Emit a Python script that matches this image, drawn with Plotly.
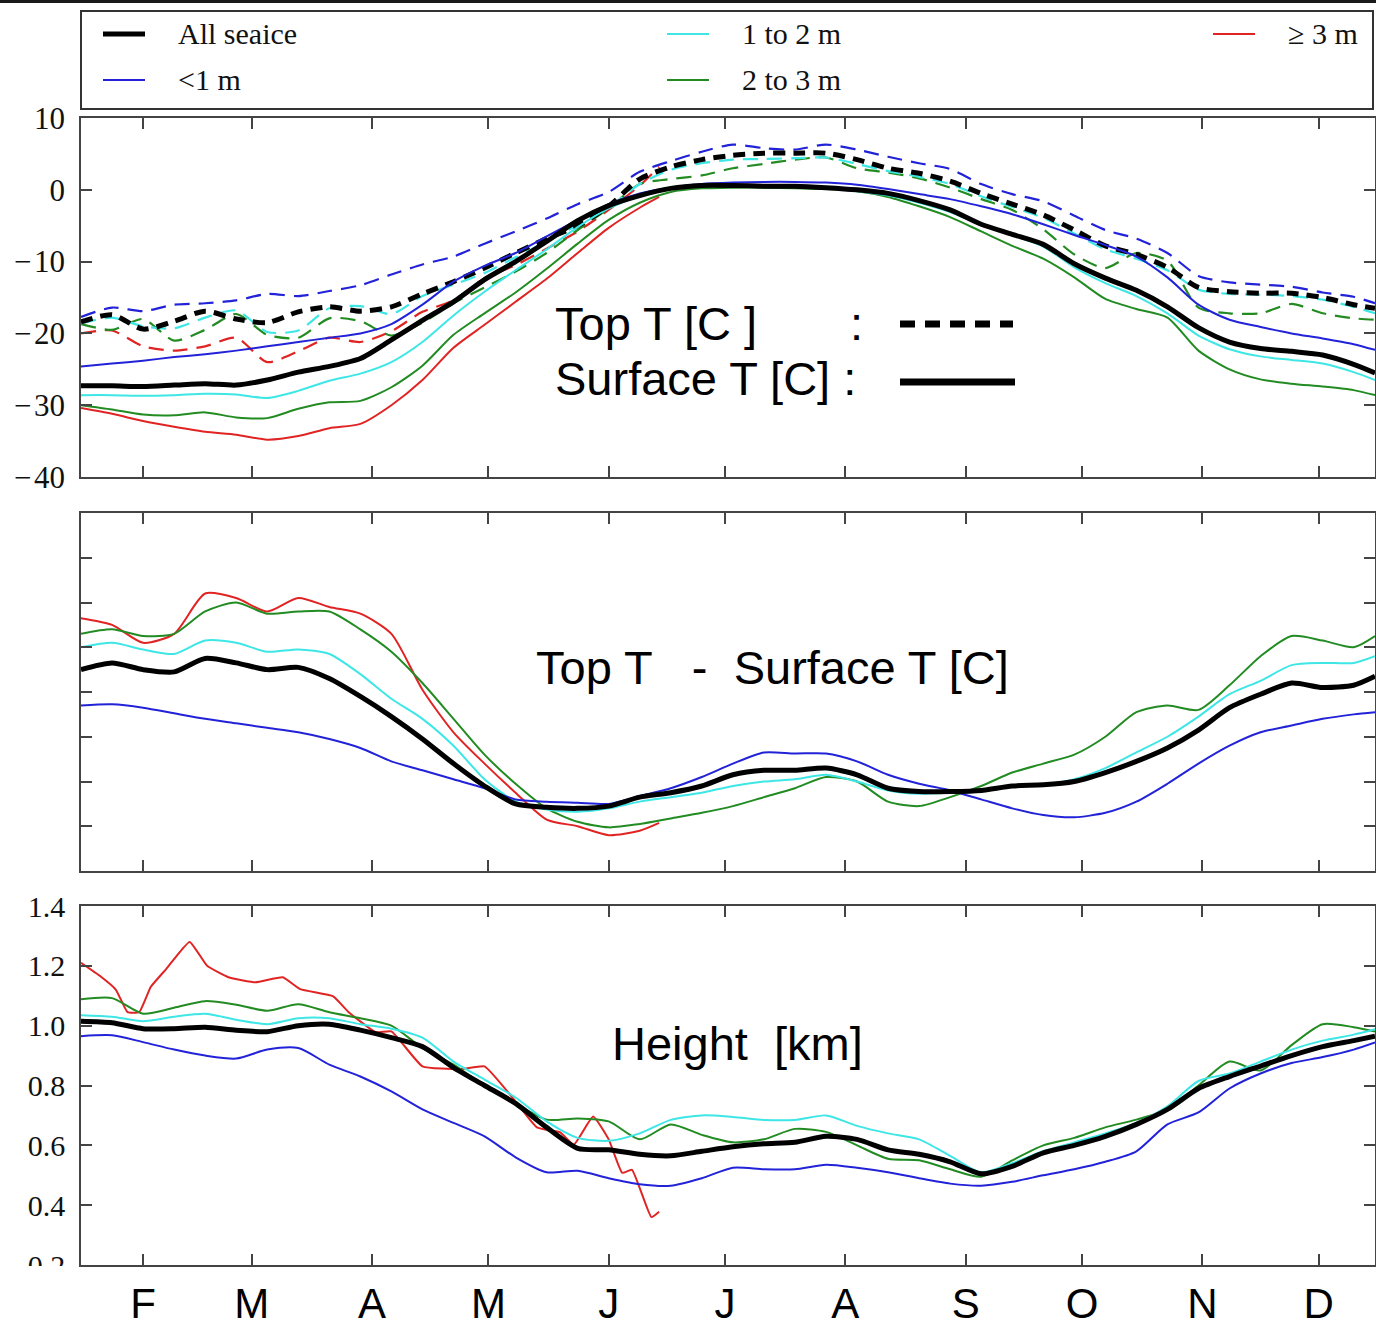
import plotly.graph_objects as go

# ---------------- data (x = day of year) ----------------
days = [16, 24, 32, 40, 48, 56, 64, 72, 80, 88, 96, 104, 112, 120, 128, 136, 144,
        152, 160, 168, 176, 184, 192, 200, 208, 216, 224, 232, 240, 248, 256, 264,
        272, 280, 288, 296, 304, 312, 320, 328, 336, 344, 349.5]
days_red = [16, 24, 32, 40, 48, 56, 64, 72, 80, 88, 96, 104, 112, 120, 128, 136, 144, 152, 160, 165]
days_red_h = [16, 21, 25, 28, 31, 34, 38, 44, 48.5, 54, 61, 68, 72.5, 81, 85, 92, 96, 104, 114,
              120, 127, 133.5, 139.5, 143, 148, 152, 155.5, 158, 163, 165]

month_days = [32, 60, 91, 121, 152, 182, 213, 244, 274, 305, 335]
month_labels = ["F", "M", "A", "M", "J", "J", "A", "S", "O", "N", "D"]

series_names = ["All seaice", "<1 m", "1 to 2 m", "2 to 3 m", "\u2265 3 m"]

# Surface temperature [C]
surf_all = [-27.3, -27.3, -27.4, -27.2, -27.0, -27.2, -26.5, -25.4, -24.6, -23.5, -20.9, -18.2,
            -15.6, -12.5, -10.0, -7.2, -4.3, -2.2, -0.8, 0.2, 0.6, 0.6, 0.5, 0.5, 0.3, 0.0,
            -0.5, -1.5, -2.8, -4.8, -6.2, -7.6, -10.3, -12.3, -14.0, -16.3, -19.2, -21.2,
            -22.1, -22.5, -23.0, -24.3, -25.5]
surf_lt1 = [-24.6, -24.2, -23.8, -23.3, -22.9, -22.4, -21.8, -21.2, -20.6, -20.0, -18.7, -16.0,
            -12.8, -10.6, -8.8, -6.5, -4.2, -2.0, -0.5, 0.3, 0.8, 1.0, 1.1, 1.1, 1.0, 0.7,
            0.1, -0.6, -1.3, -2.3, -3.4, -4.8, -6.3, -7.7, -9.3, -12.2, -16.0, -18.1, -19.1,
            -20.0, -20.7, -21.5, -22.3]
surf_1to2 = [-28.6, -28.6, -28.7, -28.6, -28.4, -28.5, -29.0, -28.0, -26.6, -25.6, -24.0, -21.2,
             -17.5, -14.2, -11.2, -8.3, -5.2, -2.6, -0.9, 0.1, 0.5, 0.5, 0.5, 0.4, 0.2, -0.2,
             -0.8, -1.8, -3.1, -4.9, -6.3, -7.9, -10.8, -13.0, -14.8, -17.2, -20.3, -22.2,
             -23.2, -23.7, -24.2, -25.4, -26.5]
surf_2to3 = [-30.0, -30.6, -31.3, -31.4, -31.0, -31.7, -31.8, -30.5, -29.6, -29.4, -27.5, -24.5,
             -20.2, -17.2, -14.3, -11.0, -7.5, -4.2, -1.8, -0.3, 0.2, 0.3, 0.3, 0.2, 0.1, -0.2,
             -1.0, -2.3, -3.8, -5.8, -7.8, -9.6, -12.2, -15.2, -16.6, -17.8, -22.4, -25.0,
             -26.4, -27.0, -27.4, -27.9, -28.6]
surf_ge3 = [-30.4, -31.2, -32.2, -33.0, -33.7, -34.1, -34.8, -34.3, -33.2, -32.6, -30.0, -26.5,
            -22.0, -18.8, -15.6, -12.4, -8.8, -5.3, -2.5, -1.0]

# Top temperature [C]
top_all = [-18.4, -17.4, -19.4, -18.3, -16.9, -18.0, -18.5, -17.0, -16.3, -16.9, -16.3, -14.5,
           -12.8, -10.9, -8.8, -6.8, -5.0, -2.3, 1.5, 3.2, 4.2, 4.8, 5.1, 5.1, 5.1, 4.2, 3.0,
           2.3, 1.2, -0.5, -2.0, -3.5, -5.6, -7.8, -9.0, -10.8, -13.6, -14.2, -14.4, -14.4,
           -15.0, -16.0, -16.5]
top_lt1 = [-17.7, -16.4, -16.9, -16.0, -15.8, -15.4, -14.5, -14.8, -14.1, -13.3, -11.8, -10.4,
           -9.3, -7.5, -5.8, -4.0, -2.0, -0.3, 2.5, 4.0, 5.3, 6.3, 5.8, 5.6, 6.3, 5.6, 4.6,
           3.7, 2.9, 0.8, -0.6, -1.6, -3.6, -5.6, -6.8, -8.8, -12.0, -12.9, -13.2, -13.5,
           -14.3, -14.9, -15.8]
top_1to2 = [-18.6, -17.8, -19.0, -19.3, -17.8, -16.8, -19.8, -19.6, -16.5, -16.2, -17.3, -14.8,
            -13.2, -11.6, -9.4, -7.2, -4.9, -2.5, 0.8, 2.8, 3.7, 4.2, 4.3, 4.4, 4.5, 3.6, 2.6,
            1.8, 0.8, -0.9, -2.4, -3.9, -6.1, -8.3, -9.6, -11.2, -13.9, -14.5, -14.6, -14.8,
            -15.3, -16.3, -17.2]
top_2to3 = [-18.7, -19.5, -18.0, -21.0, -19.5, -17.3, -20.2, -20.6, -17.9, -18.3, -20.3, -18.5,
            -15.8, -13.6, -11.4, -8.8, -5.6, -2.6, 0.8, 1.5, 2.0, 3.0, 3.6, 4.2, 4.5, 3.0, 2.4,
            1.6, 0.3, -1.3, -2.8, -5.5, -9.0, -10.9, -8.8, -9.9, -16.4, -17.2, -17.2, -15.9,
            -17.2, -17.9, -18.1]
top_ge3 = [-20.0, -19.6, -21.8, -22.4, -21.8, -20.6, -24.0, -22.5, -20.6, -21.2, -19.7, -17.0,
           -15.4, -12.3, -10.5, -8.2, -5.8, -2.8, 0.6, 3.2]

# Top T - Surface T [C]
diff_all = [9.0, 9.3, 9.0, 8.9, 9.5, 9.3, 9.0, 9.1, 8.6, 7.8, 6.9, 5.9, 4.8, 3.8, 3.0, 2.85,
            2.8, 2.9, 3.3, 3.5, 3.8, 4.3, 4.5, 4.5, 4.6, 4.3, 3.7, 3.55, 3.55, 3.6, 3.8, 3.85,
            4.0, 4.4, 4.9, 5.5, 6.3, 7.3, 7.9, 8.4, 8.2, 8.3, 8.7]
diff_lt1 = [7.4, 7.45, 7.3, 7.05, 6.8, 6.6, 6.4, 6.2, 5.9, 5.5, 4.9, 4.5, 4.1, 3.7, 3.2, 3.1,
            3.05, 3.0, 3.35, 3.7, 4.2, 4.8, 5.3, 5.25, 5.25, 4.9, 4.3, 3.9, 3.6, 3.2, 2.8, 2.5,
            2.4, 2.6, 3.1, 3.9, 4.8, 5.6, 6.2, 6.5, 6.8, 7.0, 7.1]
diff_1to2 = [10.0, 10.2, 9.9, 9.7, 10.3, 10.2, 9.8, 9.9, 9.7, 8.8, 7.7, 6.8, 5.6, 4.1, 3.1, 2.75,
             2.65, 2.8, 3.1, 3.3, 3.5, 3.8, 4.0, 4.1, 4.3, 4.0, 3.6, 3.45, 3.5, 3.6, 3.8, 3.85,
             4.1, 4.6, 5.3, 6.0, 6.9, 7.9, 8.5, 9.2, 9.3, 9.3, 9.6]
diff_2to3 = [10.6, 10.8, 10.5, 10.6, 11.6, 12.0, 11.5, 11.6, 11.6, 10.8, 9.8, 8.4, 6.8, 5.2, 3.9,
             2.8, 2.2, 1.95, 2.1, 2.35, 2.6, 2.9, 3.3, 3.7, 4.2, 4.0, 3.1, 2.9, 3.3, 3.8, 4.4,
             4.8, 5.2, 6.0, 7.1, 7.4, 7.2, 8.3, 9.6, 10.5, 10.3, 10.0, 10.5]
diff_ge3 = [11.3, 11.0, 10.2, 10.6, 12.4, 12.2, 11.6, 12.2, 11.8, 11.5, 10.6, 8.1, 6.2, 4.8, 3.5,
            2.3, 2.0, 1.6, 1.8, 2.15]

# Height [km]
hgt_all = [1.015, 1.01, 0.99, 0.99, 0.995, 0.985, 0.98, 1.0, 1.005, 0.985, 0.96, 0.93, 0.86,
           0.80, 0.74, 0.66, 0.59, 0.585, 0.57, 0.565, 0.58, 0.595, 0.605, 0.61, 0.63, 0.62,
           0.585, 0.57, 0.545, 0.505, 0.53, 0.575, 0.60, 0.63, 0.67, 0.72, 0.79, 0.83, 0.865,
           0.90, 0.93, 0.95, 0.965]
hgt_lt1 = [0.965, 0.968, 0.945, 0.92, 0.90, 0.89, 0.92, 0.925, 0.87, 0.83, 0.78, 0.72, 0.675,
           0.63, 0.56, 0.51, 0.515, 0.49, 0.47, 0.465, 0.49, 0.525, 0.52, 0.52, 0.535, 0.525,
           0.51, 0.49, 0.472, 0.465, 0.478, 0.50, 0.52, 0.545, 0.58, 0.67, 0.71, 0.79, 0.84,
           0.875, 0.895, 0.92, 0.944]
hgt_1to2 = [1.035, 1.03, 1.015, 1.03, 1.04, 1.02, 1.005, 1.025, 1.025, 1.005, 0.99, 0.96, 0.88,
            0.82, 0.76, 0.68, 0.625, 0.615, 0.64, 0.685, 0.70, 0.695, 0.685, 0.685, 0.70, 0.665,
            0.64, 0.62, 0.565, 0.51, 0.54, 0.58, 0.61, 0.64, 0.675, 0.73, 0.815, 0.84, 0.88,
            0.92, 0.95, 0.97, 0.988]
hgt_2to3 = [1.088, 1.092, 1.04, 1.06, 1.082, 1.07, 1.05, 1.072, 1.045, 1.025, 1.0, 0.925, 0.87,
            0.80, 0.74, 0.686, 0.69, 0.68, 0.62, 0.67, 0.635, 0.61, 0.62, 0.655, 0.645, 0.60,
            0.555, 0.55, 0.52, 0.495, 0.55, 0.60, 0.625, 0.66, 0.686, 0.72, 0.80, 0.88, 0.85,
            0.935, 1.005, 0.995, 0.98]
hgt_ge3 = [1.21, 1.165, 1.12, 1.045, 1.045, 1.13, 1.19, 1.28, 1.2, 1.162, 1.145, 1.162, 1.122,
           1.098, 1.045, 0.978, 0.981, 0.864, 0.855, 0.864, 0.763, 0.66, 0.643, 0.602, 0.696,
           0.62, 0.508, 0.518, 0.36, 0.378]

colors = ["#000000", "#2222d8", "#3ee6e6", "#228b22", "#e02424"]

# ---------------- geometry ----------------
W, H = 1376, 1327
ML, MR, MT, MB = 81, 1, 0, 62
PW, PH = W - ML - MR, H - MT - MB


def fx(p):
    return (p - ML) / PW


def fy(p):
    return 1 - (p - MT) / PH


SERIF = "Liberation Serif, Times New Roman, serif"
SANS = "Liberation Sans, Arial, sans-serif"

fig = go.Figure()


def add(x, y, color, width, axis, dash="solid", smoothing=0.7):
    fig.add_trace(go.Scatter(
        x=x, y=y, mode="lines", xaxis="x" + axis, yaxis="y" + axis,
        line=dict(color=color, width=width, dash=dash, shape="spline", smoothing=smoothing),
        showlegend=False, hoverinfo="skip"))


surf = [surf_all, surf_lt1, surf_1to2, surf_2to3, surf_ge3]
top = [top_all, top_lt1, top_1to2, top_2to3, top_ge3]
diff = [diff_all, diff_lt1, diff_1to2, diff_2to3, diff_ge3]
hgt = [hgt_all, hgt_lt1, hgt_1to2, hgt_2to3, hgt_ge3]

# draw the thickness classes first, the all-ice curve last (on top)
order = [4, 3, 2, 1, 0]
for i in order:
    xs = days_red if i == 4 else days
    add(xs, top[i], colors[i], 5 if i == 0 else 2.2, "", "12px,8px" if i == 0 else "15px,9px")
for i in order:
    xs = days_red if i == 4 else days
    add(xs, surf[i], colors[i], 5 if i == 0 else 2, "")
for i in order:
    xs = days_red if i == 4 else days
    add(xs, diff[i], colors[i], 5 if i == 0 else 2, "2")
for i in order:
    if i == 4:
        add(days_red_h, hgt[i], colors[i], 2, "3", smoothing=0.4)
    else:
        add(days, hgt[i], colors[i], 5 if i == 0 else 2, "3")

axis_style = dict(showline=True, linecolor="#444", linewidth=1.5, mirror="ticks",
                  ticks="inside", ticklen=11, tickwidth=1.5, tickcolor="#444",
                  showgrid=False, zeroline=False, automargin=False)

xcommon = dict(range=[16, 349.5], tickvals=month_days, **axis_style)

fig.update_layout(
    width=W, height=H,
    margin=dict(l=ML, r=MR, t=MT, b=MB, autoexpand=False),
    paper_bgcolor="white", plot_bgcolor="white",
    xaxis=dict(domain=[0, 1], anchor="y", showticklabels=False, **xcommon),
    yaxis=dict(domain=[fy(477), fy(118)], anchor="x", range=[-40, 10],
               tickvals=[-40, -30, -20, -10, 0, 10],
               ticktext=["\u2212\u200a40", "\u2212\u200a30", "\u2212\u200a20", "\u2212\u200a10", "0", "10"],
               tickfont=dict(family=SERIF, size=31, color="#111"), ticklabelstandoff=8,
               **axis_style),
    xaxis2=dict(domain=[0, 1], anchor="y2", showticklabels=False, **xcommon),
    yaxis2=dict(domain=[fy(871), fy(513)], anchor="x2", range=[0, 16],
                tickvals=[2, 4, 6, 8, 10, 12, 14], showticklabels=False, **axis_style),
    xaxis3=dict(domain=[0, 1], anchor="y3", ticktext=month_labels,
                tickfont=dict(family=SANS, size=42, color="#000"), ticklabelstandoff=1,
                **xcommon),
    yaxis3=dict(domain=[0, fy(906)], anchor="x3", range=[0.2, 1.4],
                tickvals=[0.2, 0.4, 0.6, 0.8, 1.0, 1.2, 1.4],
                ticktext=["0.2", "0.4", "0.6", "0.8", "1.0", "1.2", "1.4"],
                tickfont=dict(family=SERIF, size=30, color="#111"), ticklabelstandoff=8,
                **axis_style),
)

shapes = []
annotations = []

# dark rule along the top edge
shapes.append(dict(type="line", xref="paper", yref="paper", x0=fx(0), x1=fx(W), y0=fy(1),
                   y1=fy(1), line=dict(color="#1a1a1a", width=4), layer="above"))
# the lowest height label is cut by the frame edge
shapes.append(dict(type="rect", xref="paper", yref="paper", x0=fx(0), x1=fx(79), y0=fy(H),
                   y1=fy(1266), line=dict(width=0), fillcolor="white", layer="above"))

# legend box
shapes.append(dict(type="rect", xref="paper", yref="paper", x0=fx(81), x1=fx(1373),
                   y0=fy(109), y1=fy(11), line=dict(color="#333", width=2),
                   fillcolor="white", layer="above"))
legend_slots = [(103, 34), (103, 80), (667, 34), (667, 80), (1213, 34)]
for i, (lx, ly) in enumerate(legend_slots):
    shapes.append(dict(type="line", xref="paper", yref="paper", x0=fx(lx), x1=fx(lx + 42),
                       y0=fy(ly), y1=fy(ly), layer="above",
                       line=dict(color=colors[i], width=5 if i == 0 else 2)))
    annotations.append(dict(xref="paper", yref="paper", x=fx(lx + 73), y=fy(ly),
                            xanchor="left", yanchor="middle", showarrow=False,
                            text=series_names[i].replace("<", "&lt;"),
                            font=dict(family=SERIF, size=30, color="#111")))

# line-style key in the top panel
shapes.append(dict(type="line", xref="paper", yref="paper", x0=fx(900), x1=fx(1013),
                   y0=fy(324), y1=fy(324), layer="above",
                   line=dict(color="#000", width=7, dash="15px,10px")))
shapes.append(dict(type="line", xref="paper", yref="paper", x0=fx(900), x1=fx(1015),
                   y0=fy(382), y1=fy(382), layer="above",
                   line=dict(color="#000", width=7)))

big = dict(family=SANS, size=47, color="#000")
for txt, lx, ly in [("Top T [C ]", 553, 323), (":", 848, 323), ("Surface T [C] :", 553, 378),
                    ("Top T\u00a0\u00a0\u00a0-\u00a0\u00a0Surface T [C]", 534, 668),
                    ("Height\u00a0\u00a0[km]", 610, 1043)]:
    annotations.append(dict(xref="paper", yref="paper", x=fx(lx), y=fy(ly), xanchor="left",
                            yanchor="middle", showarrow=False, text=txt, font=big))

fig.update_layout(shapes=shapes, annotations=annotations)
fig.write_html("out.html")
